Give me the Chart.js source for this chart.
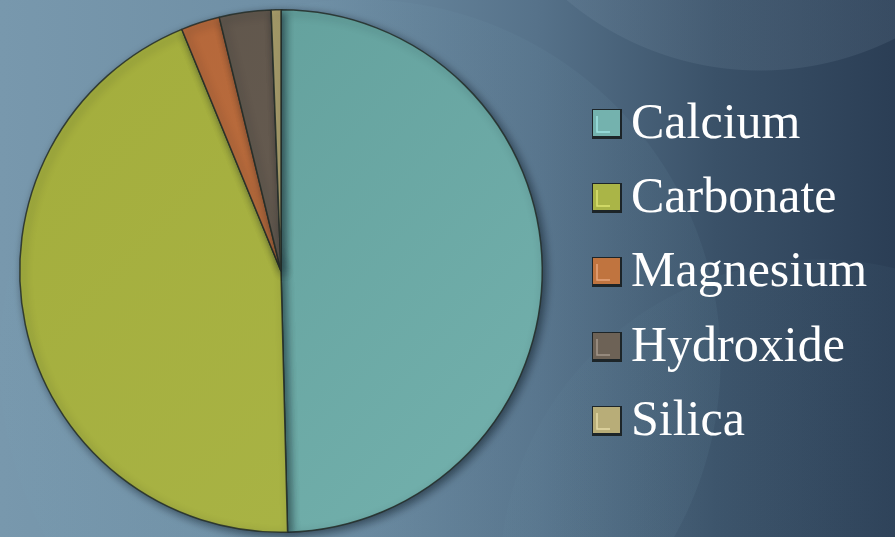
<!DOCTYPE html>
<html>
<head>
<meta charset="utf-8">
<script src="https://cdn.jsdelivr.net/npm/chart.js@4.4.1/dist/chart.umd.min.js"></script>
<style>
  html, body { margin: 0; padding: 0; }
  body {
    width: 895px; height: 537px; overflow: hidden;
    background:
      radial-gradient(circle at 760px -230px, rgba(150,175,195,0.12) 0 300px, rgba(0,0,0,0) 301px),
      radial-gradient(circle at 360px 360px, rgba(120,160,180,0.09) 0 360px, rgba(0,0,0,0) 361px),
      radial-gradient(circle at 820px 580px, rgba(110,150,170,0.06) 0 320px, rgba(0,0,0,0) 321px),
      linear-gradient(90deg, #7898ad 0%, #6e8ea4 35%, #56728a 60%, #3a5168 80%, #2b3e55 100%);
  }
  #wrap { position: absolute; left: 0; top: 0; width: 895px; height: 537px; }
</style>
</head>
<body>
<div id="wrap"><canvas id="c" width="895" height="537"></canvas></div>
<script>
// Mineral composition shares (percent)
const categories = ['Calcium', 'Carbonate', 'Magnesium', 'Hydroxide', 'Silica'];
const shares = [49.6, 44.2, 2.4, 3.2, 0.6];

// Slice fills: [darker, lighter] pairs for a soft bevelled look
const sliceTones = [
  ['#5f9c98', '#74b2ae'],
  ['#a3ad3c', '#aab547'],
  ['#b3653a', '#c0743f'],
  ['#5e544a', '#6d6256'],
  ['#a89c68', '#b8ad78']
];
const highlightTones = ['#a8f0ee', '#e8f07a', '#f0b088', '#b0a498', '#f0e6b0'];

function sliceFill(ctx) {
  const chart = ctx.chart;
  const area = chart.chartArea;
  const tones = sliceTones[ctx.dataIndex];
  if (!area) return tones[1];
  const g = chart.ctx.createLinearGradient(area.left, area.top, area.right, area.bottom);
  g.addColorStop(0, tones[0]);
  g.addColorStop(1, tones[1]);
  return g;
}

// Legend drawn beside the pie: bevelled square swatch + serif label
const sideLegend = {
  id: 'sideLegend',
  afterDraw(chart) {
    const c = chart.ctx;
    const x0 = 592, top0 = 109, step = 74.2, size = 29;
    c.save();
    chart.data.labels.forEach((label, i) => {
      const y = Math.round(top0 + step * i);
      const tones = sliceTones[i];
      // shadow edge
      c.fillStyle = 'rgba(20,25,25,0.85)';
      c.fillRect(x0, y, size + 1, size + 1);
      c.fillStyle = tones[1];
      c.fillRect(x0 + 1, y + 1, size - 2, size - 3);
      // inner highlight
      c.strokeStyle = highlightTones[i];
      c.globalAlpha = 0.8;
      c.lineWidth = 1.5;
      c.beginPath();
      c.moveTo(x0 + 5, y + 7);
      c.lineTo(x0 + 5, y + size - 6);
      c.lineTo(x0 + 18, y + size - 6);
      c.stroke();
      c.globalAlpha = 1;
      // label
      c.fillStyle = '#ffffff';
      c.font = '50px "Liberation Serif", "DejaVu Serif", serif';
      c.textBaseline = 'alphabetic';
      c.textAlign = 'left';
      c.fillText(label, 631, y + size);
    });
    c.restore();
  }
};

// Soft drop shadow under the pie
const pieShadow = {
  id: 'pieShadow',
  beforeDatasetsDraw(chart) {
    const c = chart.ctx;
    c.save();
    c.shadowColor = 'rgba(10,20,30,0.55)';
    c.shadowBlur = 8;
    c.shadowOffsetX = 3;
    c.shadowOffsetY = 3;
  },
  afterDatasetsDraw(chart) {
    chart.ctx.restore();
  }
};

new Chart(document.getElementById('c'), {
  type: 'pie',
  data: {
    labels: categories,
    datasets: [{
      data: shares,
      backgroundColor: sliceFill,
      borderColor: 'rgba(35,45,40,0.85)',
      borderWidth: 1.5
    }]
  },
  options: {
    responsive: false,
    animation: false,
    layout: { padding: { left: 0, right: 333, top: 9, bottom: 4 } },
    plugins: {
      legend: { display: false },
      tooltip: { enabled: false }
    }
  },
  plugins: [pieShadow, sideLegend]
});
</script>
</body>
</html>
